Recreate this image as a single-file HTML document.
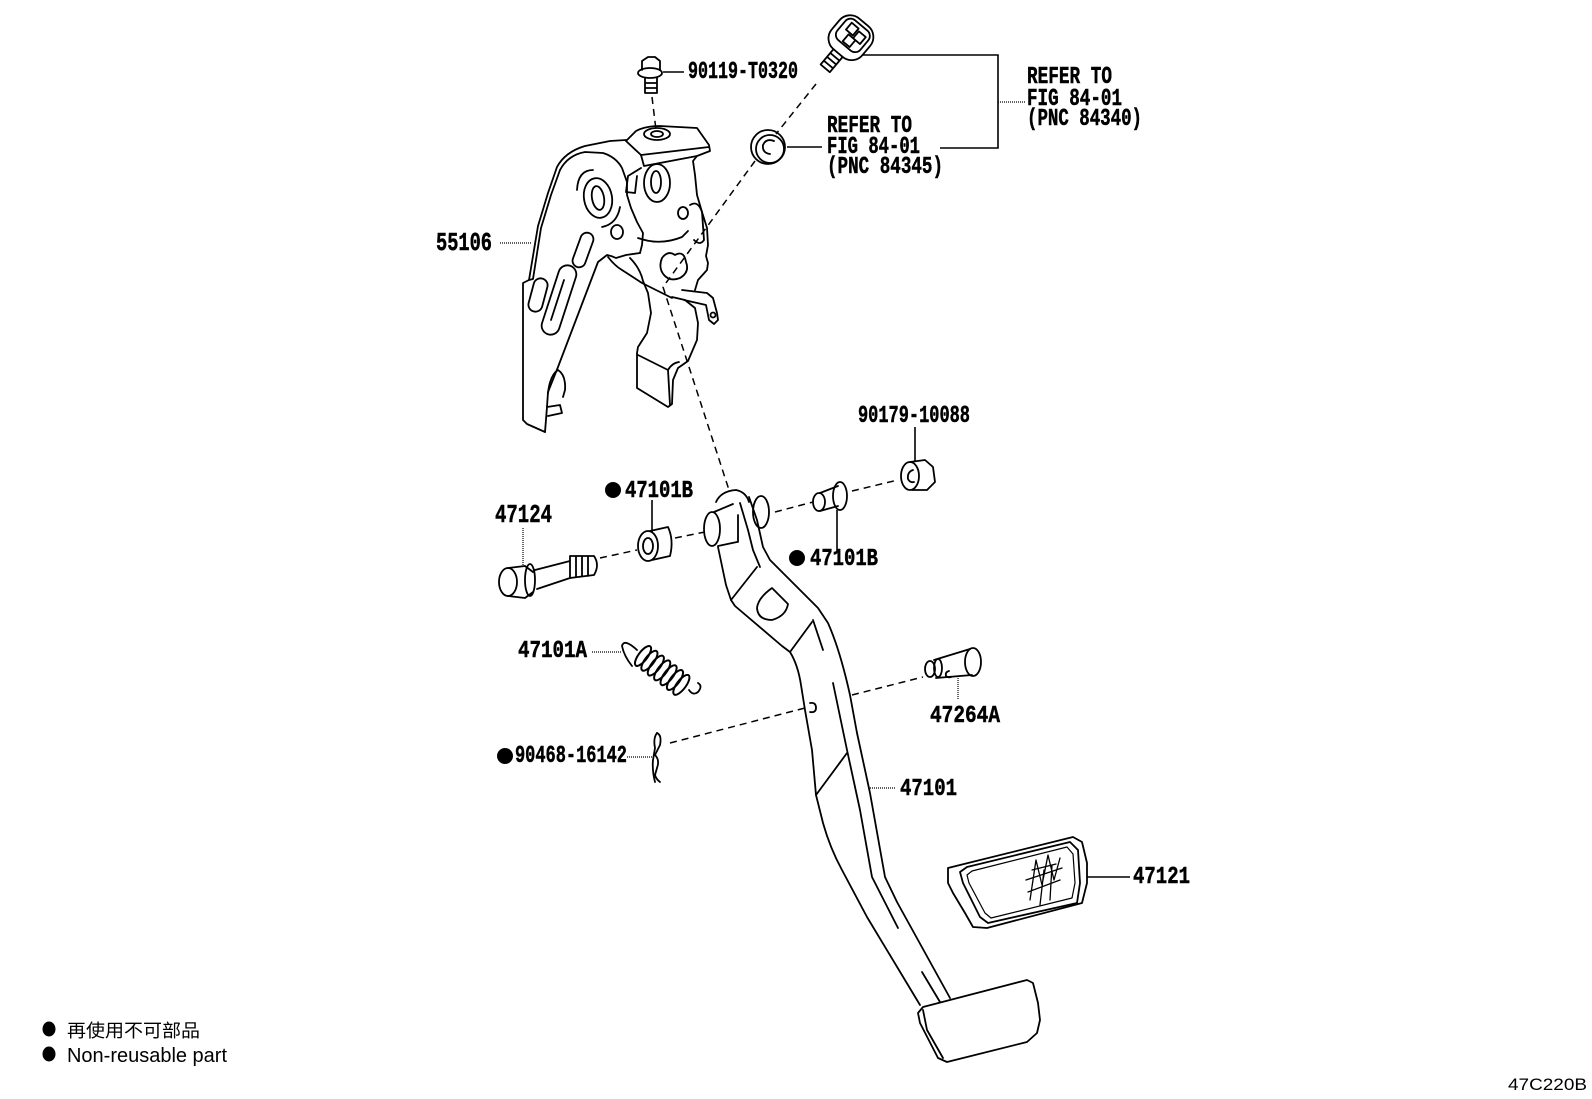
<!DOCTYPE html>
<html><head><meta charset="utf-8"><style>
html,body{margin:0;padding:0;background:#fff;}
svg{display:block;}
.lb{font-family:"Liberation Mono",monospace;font-weight:bold;font-size:24px;fill:#000;stroke:#000;stroke-width:0.5px;}
</style></head><body>
<svg width="1592" height="1099" viewBox="0 0 1592 1099" xmlns="http://www.w3.org/2000/svg">
<rect width="1592" height="1099" fill="#fff"/>
<g fill="none" stroke="#000" stroke-width="1.8" stroke-linejoin="round" stroke-linecap="round">
<!-- ===== Bracket 55106 ===== -->
<path d="M545 432 L527 424 L523 420 L523 283 L529 280 L538 226 L548 193 L557 167 Q565 152 585 146 L610 141 L626 140"/>
<path d="M529 280 L533 279 L541 228 L551 195 L560 170"/>
<path d="M560 170 Q568 155 585 152 L603 153 Q616 157 622 168 L627 182 L627 195 L631 208 L637 222 L643 233 L642 245 L640 253"/>
<path d="M547 407 L548 392 L558 367 L598 262 L607 255 Q612 256 616 258 L626 255 L640 253"/>
<path d="M608 257 Q615 266 622 270 L642 283 L662 293 L672 298"/>
<path d="M630 258 Q640 268 643 281 L648 293 L651 313 L647 333 L638 347 L637 353 L637 388 L668 407 L672 404 L673 380 L678 368 L688 361 L697 340 L698 323 L695 308 L685 300 L672 297"/>
<path d="M638 355 L668 370 L670 405 M668 370 Q672 363 679 362"/>
<path d="M682 290 L707 293 L713 298 L717 313 L718 320 L714 324 L709 320 L706 305 L684 300"/>
<circle cx="713" cy="315" r="2.5"/>
<path d="M545 432 L547 407 L560 405 L562 413 L548 416"/>
<path d="M548 393 Q550 375 558 370 Q566 375 565 390 L563 397"/>
<!-- top plate -->
<path d="M626 141 L636 131 Q645 126 660 126 L697 128 L709 145 L710 151 L697 156 L644 166 L641 155 Z"/>
<path d="M641 155 L709 147"/>
<ellipse cx="657" cy="134" rx="13" ry="6"/>
<ellipse cx="657" cy="134" rx="6" ry="3"/>
<!-- right plate -->
<path d="M641 168 L628 176 L626 192 L635 193 L637 176"/>
<path d="M697 156 L693 161 L695 175 L697 195 L702 212 L707 228 L708 245 L706 256 L708 263 L707 270 L698 280 L695 290"/>
<path d="M638 238 Q660 246 682 237 L688 231"/>
<ellipse cx="657" cy="183" rx="13" ry="19"/>
<ellipse cx="656" cy="182" rx="5" ry="11"/>
<ellipse cx="683" cy="213" rx="5" ry="6"/>
<path d="M662 258 Q668 250 675 255 Q684 250 686 262 Q690 272 680 278 Q670 282 664 275 Q658 268 662 258 Z"/>
<path d="M690 205 Q698 200 702 212 L704 240 Q700 246 694 240"/>
<!-- left plate holes -->
<ellipse cx="598" cy="198" rx="14" ry="20" transform="rotate(-10 598 198)"/>
<ellipse cx="598" cy="198" rx="6" ry="12" transform="rotate(-10 598 198)"/>
<path d="M577 190 Q578 170 593 170"/>
<path d="M602 227 Q617 224 620 207"/>
<ellipse cx="617" cy="232" rx="6" ry="7"/>
<rect x="-6.5" y="-18" width="13" height="36" rx="6.5" transform="translate(583 250) rotate(20)"/>
<rect x="-7" y="-17" width="14" height="34" rx="7" transform="translate(538 295) rotate(15)"/>
<rect x="-9" y="-36" width="18" height="72" rx="9" transform="translate(559 300) rotate(18)"/>
<path d="M551 320 L564 280"/>
<!-- ===== Pedal arm 47101 ===== -->
<ellipse cx="712" cy="529" rx="8" ry="17"/>
<path d="M714 512 L733 504 M718 546 L737 542 M738 515 L738 542"/>
<path d="M716 502 Q721 491 736 490 Q746 492 749 502"/>
<path d="M740 503 L748 530 L753 550 L760 567"/>
<ellipse cx="761" cy="512" rx="8" ry="16"/>
<path d="M749 497 L757 520 L763 547 L770 560 L780 570 L818 608 L828 623 Q840 650 850 695 L857 733 L870 793 L885 877 L897 902 L950 998"/>
<path d="M718 547 L726 585 L731 600 L735 606 L782 646 L790 652 Q798 665 801 685 L805 710 L812 750 L816 795 L823 823 Q830 848 842 870 L867 917 L920 1005"/>
<path d="M731 600 L757 567 M790 652 L812 622 M816 795 L847 753"/>
<path d="M813 620 L823 650 M833 683 L847 750 L860 810 L872 877 L898 928 M922 972 L940 1002"/>
<path d="M772 588 L788 604 Q786 616 772 620 Q758 620 757 608 Q758 598 772 588 Z"/>
<path d="M810 703 Q816 702 816 708 Q816 713 810 712"/>
<!-- pedal pad -->
<path d="M918 1013 L923 1007 L1027 980 L1033 983 L1038 1003 L1040 1020 L1037 1033 L1027 1042 L947 1062 L938 1058 L920 1023 Z"/>
<path d="M923 1010 L927 1030 L943 1058"/>
<!-- pad 47121 -->
<path d="M948 868 L960 865 L1073 837 L1082 842 L1087 863 L1087 883 L1082 903 L987 928 L973 927 L965 913 L953 893 L948 883 Z"/>
<path d="M960 872 L967 867 L1070 842 L1078 850 L1080 883 L1077 903 L988 923 L980 917 L963 883 Z"/>
<path d="M967 875 L972 871 L1067 847 L1073 854 L1075 883 L1072 898 L991 918 L985 913 L969 883 Z" stroke-width="1.2"/>
<path d="M1030 900 L1036 860 L1042 885 L1048 855 L1054 880 L1060 858 M1026 880 L1062 868 M1028 892 L1060 880 M1032 870 L1056 864 M1040 905 L1044 870 M1050 900 L1052 865" stroke-width="1.3"/>
<!-- ===== small parts ===== -->
<!-- bolt 90119 -->
<path d="M642 70 L642 61 L648 57 L655 57 L660 61 L660 70"/>
<ellipse cx="650" cy="73" rx="12" ry="5"/>
<path d="M645 78 L645 93 L657 93 L657 78 M645 83 L657 83 M645 88 L657 88"/>
<!-- switch -->
<g transform="translate(849 40) rotate(40)">
<rect x="-20" y="-23" width="40" height="40" rx="14"/>
<rect x="-15" y="-19" width="30" height="26" rx="7"/>
<path d="M-9 -15 L0 -15 L0 -6 L-9 -6 Z M2 -13 L11 -13 L11 -4 L2 -4 Z M-4 -4 L5 -4 L5 5 L-4 5 Z"/>
<path d="M-6 17 L-6 37 L6 37 L6 17 M-6 22 L6 22 M-6 27 L6 27 M-6 32 L6 32"/>
</g>
<!-- grommet -->
<circle cx="768" cy="147" r="17"/>
<circle cx="770" cy="149" r="14"/>
<path d="M774 141 Q766 138 763 145 Q762 153 770 154"/>
<!-- nut 90179 -->
<ellipse cx="910" cy="476" rx="9" ry="14"/>
<path d="M910 462 L925 460 L933 467 L935 482 L927 490 L912 490"/>
<path d="M913 470 Q907 472 908 479 Q910 483 914 482"/>
<!-- bushing right -->
<ellipse cx="840" cy="496" rx="7" ry="14"/>
<path d="M838 486 L820 493 M838 506 L820 511"/>
<ellipse cx="819" cy="502" rx="6" ry="9"/>
<!-- bushing left -->
<ellipse cx="648" cy="546" rx="10" ry="15"/>
<ellipse cx="648" cy="546" rx="5" ry="8"/>
<path d="M650 531 L668 527 Q674 540 670 556 L652 560"/>
<!-- bolt 47124 -->
<ellipse cx="508" cy="582" rx="9" ry="14"/>
<path d="M508 568 L525 566 L533 572 M508 596 L525 598 L533 592"/>
<ellipse cx="530" cy="580" rx="5" ry="16"/>
<path d="M535 570 L570 561 M537 589 L570 578"/>
<path d="M570 556 L594 556 Q600 565 594 575 L570 578 Z M576 556 L576 577 M582 556 L582 576 M588 556 L588 576"/>
<!-- spring 47101A -->
<path d="M637 650 Q624 638 622 646 Q624 656 632 666"/>
<g transform="translate(663 671) rotate(37)" stroke-width="2">
<ellipse cx="-25" cy="0" rx="4.5" ry="12"/>
<ellipse cx="-17" cy="0" rx="4.5" ry="12"/>
<ellipse cx="-9" cy="0" rx="4.5" ry="12"/>
<ellipse cx="-1" cy="0" rx="4.5" ry="12"/>
<ellipse cx="7" cy="0" rx="4.5" ry="12"/>
<ellipse cx="15" cy="0" rx="4.5" ry="12"/>
<ellipse cx="23" cy="0" rx="4.5" ry="12"/>
</g>
<path d="M689 690 Q693 696 698 692 Q703 686 698 683"/>
<!-- clip 90468 -->
<path d="M657 733 Q662 735 660 745 L655 755 Q660 760 657 768 L655 775 Q656 779 660 782"/>
<path d="M657 733 Q653 738 655 748 L653 760 Q652 770 655 782"/>
<!-- pin 47264A -->
<ellipse cx="973" cy="662" rx="8" ry="14"/>
<path d="M970 649 L934 660 M972 675 L936 678"/>
<ellipse cx="930" cy="669" rx="5" ry="8"/>
<ellipse cx="938" cy="668" rx="4" ry="9"/>
<path d="M949 671 Q945 672 946 676 Q948 678 951 677"/>
</g>
<!-- ===== dashed lines ===== -->
<g fill="none" stroke="#000" stroke-width="1.5" stroke-dasharray="7 5">
<path d="M652 97 L656 130"/>
<path d="M816 84 L776 134"/>
<path d="M755 161 L663 287 L729 490"/>
<path d="M600 558 L637 550"/>
<path d="M675 538 L705 532"/>
<path d="M775 512 L813 502"/>
<path d="M852 491 L898 480"/>
<path d="M670 743 L805 708"/>
<path d="M852 695 L923 677"/>
</g>
<!-- ===== leader lines ===== -->
<g fill="none" stroke="#000" stroke-width="1.6">
<path d="M663 72 L684 72"/>
<path d="M862 55 L998 55 L998 148 L940 148"/>
<path d="M787 147 L822 147"/>
<path d="M915 427 L915 462"/>
<path d="M837 510 L837 552"/>
<path d="M652 500 L652 532"/>
<path d="M1087 877 L1130 877"/>
</g>
<g fill="none" stroke="#000" stroke-width="1.2" stroke-dasharray="1 1">
<path d="M998 102 L1025 102"/>
<path d="M500 243 L532 243"/>
<path d="M523 528 L523 566"/>
<path d="M592 652 L622 652"/>
<path d="M627 757 L653 757"/>
<path d="M958 678 L958 700"/>
<path d="M868 788 L895 788"/>
</g>
<!-- ===== labels ===== -->
<text class="lb" x="688" y="78" textLength="110" lengthAdjust="spacingAndGlyphs">90119-T0320</text>
<text class="lb" x="436" y="250" textLength="56" lengthAdjust="spacingAndGlyphs" style="font-size:26px">55106</text>
<text class="lb" x="827" y="132" textLength="85" lengthAdjust="spacingAndGlyphs">REFER TO</text>
<text class="lb" x="827" y="153" textLength="93" lengthAdjust="spacingAndGlyphs">FIG 84-01</text>
<text class="lb" x="827" y="173" textLength="116" lengthAdjust="spacingAndGlyphs">(PNC 84345)</text>
<text class="lb" x="1027" y="83" textLength="85" lengthAdjust="spacingAndGlyphs">REFER TO</text>
<text class="lb" x="1027" y="105" textLength="95" lengthAdjust="spacingAndGlyphs">FIG 84-01</text>
<text class="lb" x="1027" y="125" textLength="115" lengthAdjust="spacingAndGlyphs">(PNC 84340)</text>
<text class="lb" x="858" y="422" textLength="112" lengthAdjust="spacingAndGlyphs">90179-10088</text>
<circle cx="613" cy="490" r="8" fill="#000"/>
<text class="lb" x="625" y="497" textLength="68" lengthAdjust="spacingAndGlyphs">47101B</text>
<circle cx="797" cy="558" r="8" fill="#000"/>
<text class="lb" x="810" y="565" textLength="68" lengthAdjust="spacingAndGlyphs">47101B</text>
<text class="lb" x="495" y="522" textLength="57" lengthAdjust="spacingAndGlyphs" style="font-size:26px">47124</text>
<text class="lb" x="518" y="657" textLength="69" lengthAdjust="spacingAndGlyphs">47101A</text>
<circle cx="505" cy="756" r="8" fill="#000"/>
<text class="lb" x="515" y="762" textLength="112" lengthAdjust="spacingAndGlyphs">90468-16142</text>
<text class="lb" x="930" y="722" textLength="70" lengthAdjust="spacingAndGlyphs">47264A</text>
<text class="lb" x="900" y="795" textLength="57" lengthAdjust="spacingAndGlyphs">47101</text>
<text class="lb" x="1133" y="883" textLength="57" lengthAdjust="spacingAndGlyphs">47121</text>
<!-- legend -->
<ellipse cx="49" cy="1029" rx="6.5" ry="7.5" fill="#000"/>
<ellipse cx="49" cy="1054" rx="6.5" ry="7.5" fill="#000"/>
<text x="67" y="1037" textLength="133" lengthAdjust="spacingAndGlyphs" style="font-family:'Liberation Sans','Noto Sans CJK SC',sans-serif;font-size:18px" fill="#000">再使用不可部品</text>
<text x="67" y="1062" textLength="160" lengthAdjust="spacingAndGlyphs" style="font-family:'Liberation Sans',sans-serif;font-size:20px" fill="#000">Non-reusable part</text>
<text x="1508" y="1090" textLength="79" lengthAdjust="spacingAndGlyphs" style="font-family:'Liberation Sans',sans-serif;font-size:17px" fill="#000">47C220B</text>
</svg>
</body></html>
